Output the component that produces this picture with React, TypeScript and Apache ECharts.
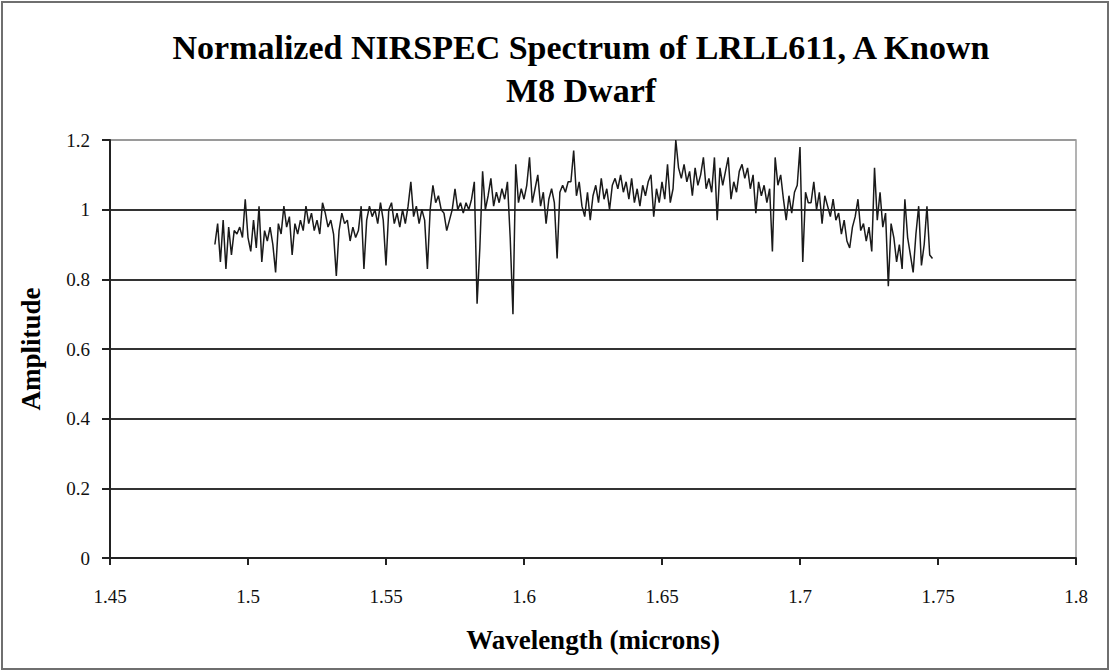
import React, { useEffect, useRef } from "react";
import * as echarts from "echarts";

// Wavelength sampling of the spectrum (microns)
const WAVE_START = 1.488;
const WAVE_STEP = 0.001;

// Normalized amplitude, one value per wavelength sample, in blue-to-red order
const AMP_BLUE = [
  0.90, 0.96, 0.85, 0.97, 0.83, 0.95, 0.87, 0.94, 0.93, 0.95,
  0.92, 1.03, 0.92, 0.88, 0.97, 0.89, 1.01, 0.85, 0.94, 0.91,
  0.95, 0.90, 0.82, 0.96, 0.93, 1.01, 0.95, 0.98, 0.87, 0.96,
  0.93, 0.97, 0.94, 1.01, 0.96, 0.99, 0.94, 0.97, 0.93, 1.02,
];
const AMP_H1 = [
  0.99, 0.95, 0.97, 0.93, 0.81, 0.94, 0.99, 0.96, 0.97, 0.91,
  0.95, 0.92, 0.94, 1.01, 0.83, 0.97, 1.01, 0.98, 1.00, 0.96,
  1.02, 0.97, 0.84, 1.00, 1.02, 0.96, 0.99, 0.95, 1.00, 0.96,
  1.01, 1.08, 0.98, 1.01, 0.96, 1.00, 0.97, 0.83, 1.00, 1.07,
  1.02, 1.04, 1.00, 0.99, 0.94, 0.97, 1.00,
];
const AMP_H2 = [
  1.06, 1.00, 1.02, 0.99, 1.02, 1.00, 1.03, 1.08, 0.73, 0.89,
  1.11, 1.00, 1.04, 1.09, 1.01, 1.05, 1.02, 1.06, 1.03, 1.08,
  0.92, 0.70, 1.13, 1.02, 1.06, 1.03, 1.07, 1.15, 1.02, 1.06,
  1.10, 1.01, 1.05, 0.96, 1.03, 1.06, 1.02, 0.86, 1.05, 1.07,
  1.05, 1.08,
];
const AMP_PEAK = [
  1.08, 1.17, 1.04, 1.08, 1.01, 0.98, 1.05, 0.97, 1.04, 1.07,
  1.02, 1.09, 1.03, 1.06, 1.00, 1.07, 1.09, 1.06, 1.10, 1.05,
  1.08, 1.03, 1.09, 1.02, 1.06, 1.01, 1.07, 1.04, 1.08, 1.10,
  0.98, 1.06, 1.02, 1.08, 1.03, 1.13, 1.02, 1.06, 1.20, 1.12,
  1.09, 1.13, 1.08, 1.11,
];
const AMP_H3 = [
  1.04, 1.12, 1.07, 1.10, 1.15, 1.06, 1.09, 1.05, 1.15, 0.97,
  1.12, 1.07, 1.11, 1.15, 1.03, 1.08, 1.05, 1.11, 1.13, 1.09,
  1.12, 1.06, 1.10, 0.99, 1.08, 1.04, 1.07, 1.02, 1.06, 0.88,
  1.15, 1.07, 1.10, 1.03, 0.97, 1.04, 0.99, 1.05, 1.07, 1.18,
  0.85, 1.05, 1.02,
];
const AMP_RED = [
  1.02, 1.08, 1.00, 1.05, 0.96, 1.04, 1.01, 0.98, 1.03, 0.97,
  0.99, 0.93, 0.97, 0.91, 0.89, 0.95, 0.98, 1.03, 0.94, 0.96,
  0.91, 0.95, 0.88, 1.12, 0.97, 1.05, 0.95, 0.99, 0.78, 0.96,
  0.92, 0.85, 0.90, 0.83, 1.03, 0.92, 0.87, 0.82, 0.93, 1.01,
  0.84, 0.90, 1.01, 0.87, 0.86,
];

const AMPLITUDE = [...AMP_BLUE, ...AMP_H1, ...AMP_H2, ...AMP_PEAK, ...AMP_H3, ...AMP_RED];

const TITLE_LINES = ["Normalized NIRSPEC Spectrum of LRLL611, A Known", "M8 Dwarf"];
const X_NAME = "Wavelength (microns)";
const Y_NAME = "Amplitude";

const SERIF = "'Liberation Serif', 'DejaVu Serif', 'Times New Roman', serif";

export default function App() {
  const ref = useRef<HTMLDivElement>(null);

  useEffect(() => {
    if (!ref.current) return;
    const chart = echarts.init(ref.current, undefined, { renderer: "svg" });

    const points = AMPLITUDE.map((v, i) => [
      +(WAVE_START + i * WAVE_STEP).toFixed(4),
      v,
    ]);

    // Two-line heading, centred over the plot area
    const titleText = TITLE_LINES.map((line, i) => ({
      type: "text",
      x: 581,
      y: 47 + i * 43,
      silent: true,
      style: {
        text: line,
        fill: "#000",
        font: `bold 34px ${SERIF}`,
        textAlign: "center",
        textVerticalAlign: "middle",
      },
    }));

    chart.setOption({
      animation: false,
      backgroundColor: "#ffffff",
      grid: {
        left: 110,
        right: 36,
        top: 140,
        bottom: 114,
        show: true,
        borderColor: "#9a9a9a",
        borderWidth: 1.5,
        backgroundColor: "#fff",
      },
      xAxis: {
        type: "value",
        min: 1.45,
        max: 1.8,
        interval: 0.05,
        name: X_NAME,
        nameLocation: "middle",
        nameGap: 68,
        nameTextStyle: {
          fontFamily: SERIF,
          fontWeight: "bold",
          fontSize: 27,
          color: "#000",
        },
        axisLine: { show: true, lineStyle: { color: "#222", width: 2 } },
        axisTick: { show: true, length: 7, lineStyle: { color: "#222", width: 2 } },
        axisLabel: {
          margin: 29,
          fontFamily: SERIF,
          fontSize: 19,
          color: "#111",
          formatter: (v: number) => String(+v.toFixed(2)),
        },
        splitLine: { show: false },
      },
      yAxis: {
        type: "value",
        min: 0,
        max: 1.2,
        interval: 0.2,
        name: Y_NAME,
        nameLocation: "middle",
        nameGap: 66,
        nameTextStyle: {
          fontFamily: SERIF,
          fontWeight: "bold",
          fontSize: 27,
          color: "#000",
        },
        axisLine: { show: true, lineStyle: { color: "#222", width: 2 } },
        axisTick: { show: true, length: 8, lineStyle: { color: "#222", width: 2 } },
        axisLabel: {
          margin: 20,
          fontFamily: SERIF,
          fontSize: 19,
          color: "#111",
          formatter: (v: number) => String(+v.toFixed(1)),
        },
        splitLine: {
          show: true,
          lineStyle: {
            color: ["#333", "#333", "#333", "#333", "#333", "#333", "#9a9a9a"],
            width: 2,
          },
        },
      },
      graphic: [
        {
          type: "rect",
          shape: { x: 2, y: 2, width: 1106, height: 667 },
          style: { fill: "none", stroke: "#6f6f6f", lineWidth: 2 },
          silent: true,
        },
        ...titleText,
      ],
      series: [
        {
          type: "line",
          data: points,
          showSymbol: false,
          symbol: "none",
          lineStyle: { color: "#1a1a1a", width: 1.5 },
          z: 5,
        },
      ],
    });

    return () => chart.dispose();
  }, []);

  return (
    <div
      ref={ref}
      style={{
        position: "fixed",
        left: 0,
        top: 0,
        width: 1112,
        height: 672,
        background: "#fff",
      }}
    />
  );
}
